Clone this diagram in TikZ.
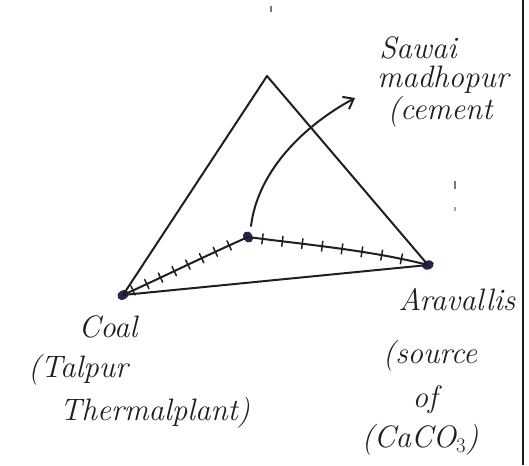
\documentclass[tikz,border=0pt]{standalone}
\usetikzlibrary{arrows.meta,decorations.markings,shapes.geometric}
\definecolor{ink}{HTML}{1E1E24}
\definecolor{dotc}{HTML}{2A2350}
\tikzset{
  edge/.style={draw=ink, line width=2pt, line cap=round, line join=round},
  ticked/.style={edge, postaction={decorate}, decoration={markings,
     mark=between positions 0.08 and 0.95 step 0.11 with {\draw[ink, line width=1.5pt] (0,-5pt) -- (0,5pt);}}},
  vdot/.style={ellipse, fill=dotc, minimum width=12pt, minimum height=9pt, inner sep=0pt},
  hand/.style={font=\fontsize{31}{34}\selectfont\itshape, text=ink, inner sep=1pt},
}
\begin{document}
\begin{tikzpicture}[x=1pt,y=-1pt]
\useasboundingbox (0,0) rectangle (529,465);
% page edge line
\draw[ink, line width=2pt] (523,0) -- (523,465);
% vertices
\coordinate (top) at (267,76);
\node[vdot, rotate=30] (coal) at (123,295) {};
\node[vdot, rotate=-60] (mid) at (248,237) {};
\node[vdot, rotate=20] (arav) at (428,265) {};
% triangle
\draw[edge] (coal.center) -- (top) -- (arav.center) -- (coal.center);
% least-cost route with ticks
\draw[ticked] (coal.center) .. controls (165,276) and (205,256) .. (mid.center);
\draw[ticked] (mid.center) .. controls (300,244) and (370,250) .. (arav.center);
% arrow to Sawai Madhopur
\coordinate (arrowend) at (355,98);
\draw[edge, -{Straight Barb[length=9pt,width=14pt]}] (251,226) .. controls (258,170) and (305,125) .. (arrowend);
% stray pencil marks
\draw[ink!60, line width=1.2pt] (271,6) -- (271,12);
\draw[ink!60, line width=1.5pt] (455,181) -- (455,189);
\draw[ink!40, line width=1.2pt] (455,207) -- (455,211);
% labels
\node[hand] (s1) at (418,48) {Sawai};
\node[hand] (s2) at (443,80) {madhopur};
\node[hand] (s3) at (440,112) {(cement};
\node[hand] (c1) at (108,327) {Coal};
\node[hand] (c2) at (78,370) {(Talpur};
\node[hand] (c3) at (155,413) {Thermalplant)};
\node[hand] (a1) at (457,300) {Aravallis};
\node[hand] (a2) at (430,356) {(source};
\node[hand] (a3) at (425,400) {of};
\node[hand] (a4) at (420,440) {(CaCO$_3$)};
\end{tikzpicture}
\end{document}
